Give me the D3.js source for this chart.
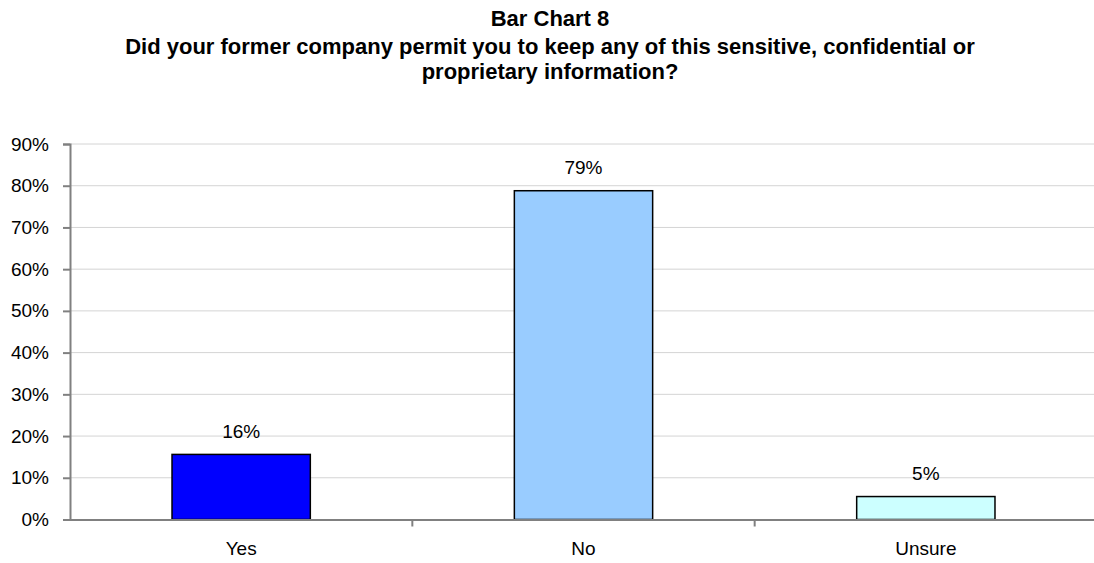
<!DOCTYPE html>
<html><head><meta charset="utf-8">
<script src="https://cdn.jsdelivr.net/npm/d3@7"></script>
<style>body{margin:0;background:#fff}svg{display:block}text{font-family:"Liberation Sans",Arial,sans-serif}</style>
</head><body>
<script>
const categories = ["Yes", "No", "Unsure"];
const values = [15.6, 78.8, 5.5];
const valueLabels = ["16%", "79%", "5%"];
const colors = ["#0000FF", "#99CCFF", "#CCFFFF"];
const yTicks = [0, 10, 20, 30, 40, 50, 60, 70, 80, 90];
const titleLines = ["Bar Chart 8", "Did your former company permit you to keep any of this sensitive, confidential or", "proprietary information?"];

const W = 1094, H = 563;
const FONT = "Liberation Sans, Arial, sans-serif";
const svg = d3.select("body").append("svg").attr("width", W).attr("height", H);
const plotL = 70, plotR = 1097, plotT = 144, plotB = 519.5;

const x = d3.scaleBand().domain(categories).range([plotL, plotR]).padding(0);
const y = d3.scaleLinear().domain([0, 90]).range([plotB, plotT]);

// title
const tl = svg.append("g");
const titleY = [26, 54, 79];
titleLines.forEach((t, i) => {
  tl.append("text").attr("x", 550).attr("y", titleY[i]).attr("text-anchor", "middle")
    .attr("font-weight", "bold").attr("font-size", 22).attr("fill", "#000").text(t);
});

// gridlines
svg.append("g").selectAll("line").data(yTicks.filter(d => d > 0)).join("line")
  .attr("x1", plotL).attr("x2", plotR).attr("y1", d => y(d)).attr("y2", d => y(d))
  .attr("stroke", "#d4d4d4").attr("stroke-width", 1);

// bars
const bw = x.bandwidth() * 0.404;
svg.append("g").selectAll("rect").data(values).join("rect")
  .attr("x", (d, i) => x(categories[i]) + x.bandwidth() / 2 - bw / 2)
  .attr("y", d => y(d)).attr("width", bw).attr("height", d => y(0) - y(d))
  .attr("fill", (d, i) => colors[i]).attr("stroke", "#000").attr("stroke-width", 1.5);

// value labels
svg.append("g").selectAll("text").data(values).join("text")
  .attr("x", (d, i) => x(categories[i]) + x.bandwidth() / 2)
  .attr("y", d => y(d) - 16.5).attr("text-anchor", "middle").attr("font-size", 19).attr("fill", "#000")
  .text((d, i) => valueLabels[i]);

// y axis
const ya = svg.append("g").attr("transform", `translate(${plotL},0)`)
  .call(d3.axisLeft(y).tickValues(yTicks).tickSize(7).tickPadding(14).tickFormat(d => d + "%"));
ya.select(".domain").attr("stroke", "#808080").attr("stroke-width", 2);
ya.selectAll(".tick line").attr("stroke", "#808080").attr("stroke-width", 2);
ya.selectAll("text").attr("font-size", 19).attr("fill", "#000").attr("font-family", FONT);

// x axis
const xa = svg.append("g").attr("transform", `translate(0,${plotB})`)
  .call(d3.axisBottom(x).tickSize(0).tickPadding(22));
xa.select(".domain").attr("stroke", "#808080").attr("stroke-width", 2);
xa.selectAll("text").attr("font-size", 19).attr("fill", "#000").attr("font-family", FONT);
// category separator ticks
svg.append("g").selectAll("line").data(categories.slice(1)).join("line")
  .attr("x1", d => x(d)).attr("x2", d => x(d)).attr("y1", plotB).attr("y2", plotB + 7)
  .attr("stroke", "#808080").attr("stroke-width", 2);
</script>
</body></html>
